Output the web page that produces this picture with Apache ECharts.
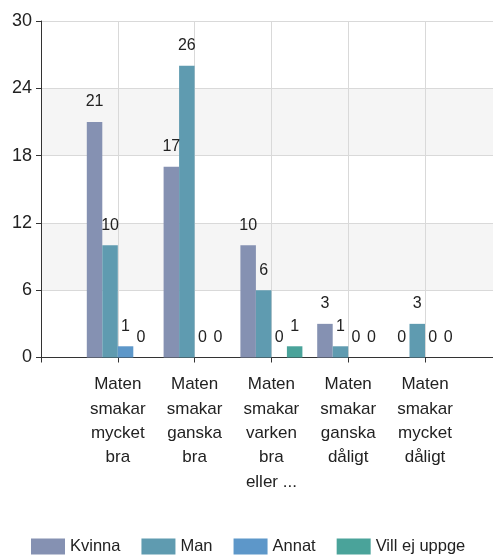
<!DOCTYPE html>
<html>
<head>
<meta charset="utf-8">
<script src="https://cdn.jsdelivr.net/npm/echarts@6/dist/echarts.min.js"></script>
<style>html,body{margin:0;padding:0;background:#fff;overflow:hidden;}#c{width:510px;height:556px;}</style>
</head>
<body>
<div id="c"></div>
<script>
const categories = [
  "Maten smakar mycket bra",
  "Maten smakar ganska bra",
  "Maten smakar varken bra eller ...",
  "Maten smakar ganska dåligt",
  "Maten smakar mycket dåligt"
];
const seriesNames = ["Kvinna", "Man", "Annat", "Vill ej uppge"];
const kvinna = [21, 17, 10, 3, 0];
const man = [10, 26, 6, 1, 3];
const annat = [1, 0, 0, 0, 0];
const villEjUppge = [0, 0, 1, 0, 0];
const yTicks = [0, 6, 12, 18, 24, 30];

const colors = ["#8591b2", "#5f9bb0", "#5d97c9", "#4aa39a"];
const font = "'Liberation Sans', Arial, sans-serif";

function pad(arr) { return ['-'].concat(arr, ['-']); }
function wrapLabel(s) {
  const w = s.split(' ');
  return w.slice(0, 4).join('\n') + (w.length > 4 ? '\n' + w.slice(4).join(' ') : '');
}

const values = [kvinna, man, annat, villEjUppge];
const chart = echarts.init(document.getElementById('c'), null, {renderer: 'canvas'});
chart.setOption({
  animation: false,
  backgroundColor: '#ffffff',
  color: colors,
  textStyle: {fontFamily: font},
  grid: {left: 41, top: 21, bottom: 198.5, width: 460.8, containLabel: false},
  legend: {
    data: seriesNames,
    top: 533, left: 26,
    itemWidth: 34, itemHeight: 16, itemGap: 21,
    icon: 'rect',
    textStyle: {fontSize: 16.5, color: '#222', fontFamily: font}
  },
  xAxis: {
    type: 'category',
    boundaryGap: false,
    data: [''].concat(categories, ['']),
    axisLine: {lineStyle: {color: '#333', width: 1}},
    axisTick: {show: true, length: 5, lineStyle: {color: '#333'}},
    axisLabel: {
      interval: 0, margin: 15, fontSize: 17, lineHeight: 24.3, color: '#222', fontFamily: font,
      formatter: function (v) { return v ? wrapLabel(v) : ''; }
    },
    splitLine: {show: true, lineStyle: {color: '#d9d9d9', width: 1}}
  },
  yAxis: {
    type: 'value',
    min: yTicks[0], max: yTicks[yTicks.length - 1], interval: 6,
    axisLine: {show: true, lineStyle: {color: '#333', width: 1}},
    axisTick: {show: true, length: 5, lineStyle: {color: '#333'}},
    axisLabel: {fontSize: 18, color: '#222', margin: 9, fontFamily: font},
    splitLine: {show: true, lineStyle: {color: '#d9d9d9', width: 1}},
    splitArea: {show: true, areaStyle: {color: ['#ffffff', '#f5f5f5']}}
  },
  series: seriesNames.map(function (name, i) {
    return {
      name: name,
      type: 'bar',
      data: pad(values[i]),
      barWidth: 15.5,
      barGap: '0%',
      itemStyle: {color: colors[i]},
      label: {show: true, position: 'top', distance: 12, fontSize: 16, color: '#222', fontFamily: font}
    };
  })
});
</script>
</body>
</html>
